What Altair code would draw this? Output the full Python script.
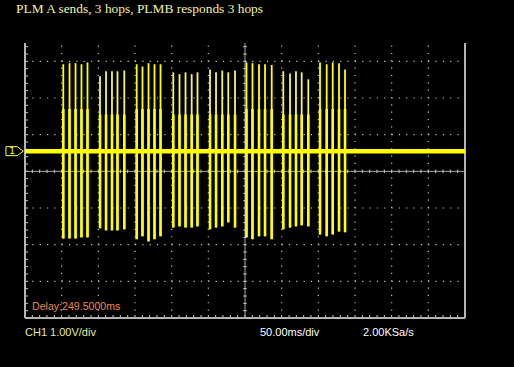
import altair as alt
import numpy as np
import pandas as pd

# ---- data (time in ms across 12 divisions of 50 ms, level in divisions of 1 V)
spike_ms = [52.2, 60.7, 68.9, 77.0, 85.2,
            102.3, 110.5, 118.6, 126.1, 135.4,
            152.3, 160.2, 168.4, 176.6, 184.8,
            202.2, 210.7, 218.9, 227.3, 235.2,
            252.3, 260.5, 269.0, 277.2, 286.4,
            302.0, 310.2, 319.1, 327.3, 336.4,
            352.2, 361.4, 369.5, 377.3, 386.3,
            402.3, 411.4, 419.6, 428.2, 436.4]
spike_peak = [2.92, 2.95, 2.95, 2.92, 2.97,
              2.59, 2.73, 2.73, 2.73, 2.75,
              2.92, 2.86, 2.95, 2.92, 2.92,
              2.70, 2.65, 2.70, 2.65, 2.70,
              2.78, 2.70, 2.75, 2.70, 2.75,
              2.97, 2.95, 2.92, 2.92, 2.90,
              2.73, 2.67, 2.73, 2.70, 2.51,
              2.97, 2.92, 2.97, 2.95, 2.78]
spike_trough = [-1.83, -1.83, -1.83, -1.80, -1.80,
                -1.55, -1.61, -1.61, -1.61, -1.58,
                -1.85, -1.77, -1.91, -1.85, -1.77,
                -1.53, -1.50, -1.53, -1.53, -1.50,
                -1.58, -1.53, -1.50, -1.39, -1.53,
                -1.80, -1.85, -1.77, -1.77, -1.85,
                -1.58, -1.53, -1.50, -1.47, -1.50,
                -1.72, -1.77, -1.72, -1.64, -1.66]
group_core = [1.70, 1.55, 1.70, 1.55, 1.55, 1.70, 1.55, 1.70]
group_tone = ["bright", "pale", "bright", "pale", "pale", "bright", "pale", "bright"]
baseline_level = 0.55

title_text = "PLM A sends, 3 hops, PLMB responds 3 hops"
delay_text = "Delay:249.5000ms"
ch_text = "CH1 1.00V/div"
time_text = "50.00ms/div"
rate_text = "2.00KSa/s"

X0, X1 = 0.0, 600.0
Y0, Y1 = -4.0, 3.5

spikes = pd.DataFrame({
    "t": spike_ms,
    "peak": spike_peak,
    "trough": spike_trough,
    "core": [group_core[i // 5] for i in range(len(spike_ms))],
    "tone": [group_tone[i // 5] for i in range(len(spike_ms))],
})

xs = alt.Scale(domain=[X0, X1], nice=False, zero=False)
ys = alt.Scale(domain=[Y0, Y1], nice=False, zero=False)
tone_scale = alt.Scale(domain=["bright", "pale"], range=["#ffff00", "#f4f47a"])


def segs(x, x2, y, y2):
    n = max(len(np.atleast_1d(a)) for a in (x, x2, y, y2))
    f = lambda a: np.broadcast_to(np.asarray(a, dtype=float), (n,))
    return pd.DataFrame({"x": f(x), "x2": f(x2), "y": f(y), "y2": f(y2)})


def seg_layer(df, color, width, dash=None):
    kw = dict(color=color, strokeWidth=width)
    if dash:
        kw["strokeDash"] = dash
    return alt.Chart(df).mark_rule(**kw).encode(
        x=alt.X("x:Q", scale=xs, axis=None), x2="x2:Q",
        y=alt.Y("y:Q", scale=ys, axis=None), y2="y2:Q")


# ---- graticule
vgrid_t = np.array([50.0 * k for k in range(1, 12) if k != 6])
hgrid_v = np.array([-3.0, -2.0, -1.0, 1.0, 2.0, 3.0])
minor_t = np.arange(X0, X1 + 0.01, 10.0)
minor_v = np.arange(Y0, Y1 + 0.001, 0.2)
tx = 3 * (X1 - X0) / 440
ty = 3 * (Y1 - Y0) / 275
ticks = pd.concat([
    segs(minor_t, minor_t, Y0, Y0 + ty),
    segs(minor_t, minor_t, -ty * 0.6, ty * 0.6),
    segs(300 - tx * 0.6, 300 + tx * 0.6, minor_v, minor_v),
    segs(X0, X0 + tx, minor_v, minor_v),
], ignore_index=True)

grid_col = "#c4c4c4"
layers = [
    seg_layer(segs(vgrid_t, vgrid_t, Y0, Y1), grid_col, 1.2, [1.2, 6.13]),
    seg_layer(segs(X0, X1, hgrid_v, hgrid_v), grid_col, 1.2, [1.2, 6.13]),
    seg_layer(segs(X0, X1, 0.0, 0.0), "#a8a8a8", 1),
    seg_layer(segs(300.0, 300.0, Y0, Y1), "#a8a8a8", 1),
    seg_layer(ticks, "#c8c8c8", 1),
    seg_layer(segs([X0, X1], [X0, X1], Y0, Y1), "#b4b4b4", 2),
    seg_layer(segs(X0, X1, Y0, Y0), "#b4b4b4", 2),
    seg_layer(segs(X0, X1, baseline_level, baseline_level), "#ffff00", 4.5),
]

thin = alt.Chart(spikes).mark_rule(strokeWidth=1.8).encode(
    x=alt.X("t:Q", scale=xs, axis=None), y=alt.Y("trough:Q", scale=ys, axis=None), y2="peak:Q",
    color=alt.Color("tone:N", scale=tone_scale, legend=None))
core = alt.Chart(spikes).mark_rule(strokeWidth=2.6, color="#ffff00").encode(
    x=alt.X("t:Q", scale=xs, axis=None), y=alt.Y("trough:Q", scale=ys, axis=None), y2="core:Q")
layers += [thin, core]

# ---- channel marker
mk = pd.DataFrame({"v": [baseline_level], "s": ["1"]})
marker = alt.Chart(mk).mark_point(
    shape="M -1 -0.52 L 0.31 -0.52 L 1 0 L 0.31 0.52 L -1 0.52 Z",
    size=300, filled=False, color="#ffff40", strokeWidth=1, opacity=1).encode(
    x=alt.value(-10.4), y=alt.Y("v:Q", scale=ys, axis=None))
marker_txt = alt.Chart(mk).mark_text(
    font="DejaVu Sans", fontSize=9, color="#ffff40", align="center", baseline="middle").encode(
    x=alt.value(-13), y=alt.Y("v:Q", scale=ys, axis=None), text="s:N")
layers += [marker, marker_txt]


def label(txt, x, y, color, size, font="Liberation Sans"):
    return alt.Chart(pd.DataFrame({"s": [txt]})).mark_text(
        font=font, fontSize=size, color=color, align="left", baseline="alphabetic").encode(
        x=alt.value(x), y=alt.value(y), text="s:N")


layers += [
    label(title_text, 16 - 25, 13 - 43, "#f2f2a8", 13.4, font="Liberation Serif"),
    label(delay_text, 32 - 25, 309.5 - 43, "#e8895c", 10.6),
    label(ch_text, 25 - 25, 335.5 - 43, "#e4eaa4", 11),
    label(time_text, 260 - 25, 335.5 - 43, "#ffffff", 11),
    label(rate_text, 363 - 25, 335.5 - 43, "#ffffff", 11),
]

chart = alt.layer(*layers).properties(
    width=440, height=275,
    padding={"left": 25, "top": 43, "right": 49, "bottom": 49},
    autosize=alt.AutoSizeParams(type="none"),
    background="#000000",
).configure_view(stroke=None)

chart.save("out.html", embed_options={"renderer": "svg", "actions": False})
